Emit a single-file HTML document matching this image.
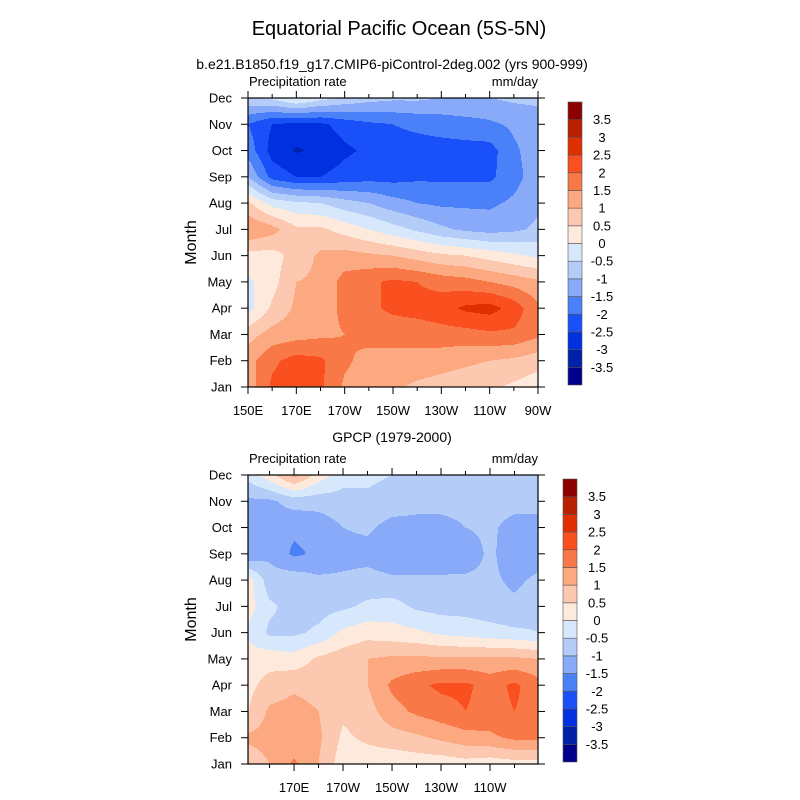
<!DOCTYPE html>
<html><head><meta charset="utf-8">
<style>
body{margin:0;background:#fff;}
svg{display:block;font-family:"Liberation Sans",Arial,sans-serif;}
</style></head>
<body>
<svg id="chart" width="800" height="800" viewBox="0 0 800 800" xmlns="http://www.w3.org/2000/svg">
<rect width="800" height="800" fill="#fff"/>
<text x="399" y="35" font-size="20" text-anchor="middle">Equatorial Pacific Ocean (5S-5N)</text>
<text x="392" y="69" font-size="14" text-anchor="middle">b.e21.B1850.f19_g17.CMIP6-piControl-2deg.002 (yrs 900-999)</text>
<text x="392" y="442" font-size="14" text-anchor="middle">GPCP (1979-2000)</text>
<g id="top"></g>
<g id="bot"></g>
</svg>
<script>
const months = ["Jan","Feb","Mar","Apr","May","Jun","Jul","Aug","Sep","Oct","Nov","Dec"];
const lons = [150,160,170,180,190,200,210,220,230,240,250,260,270];
const levels = [-3.5,-3,-2.5,-2,-1.5,-1,-0.5,0,0.5,1,1.5,2,2.5,3,3.5];
const levelLabels = ["-3.5","-3","-2.5","-2","-1.5","-1","-0.5","0","0.5","1","1.5","2","2.5","3","3.5"];
const colors = ["#00008c","#0020a8","#0030e0","#1a50f8","#4a80f8","#88aaf8","#b4ccf8","#d8e8fc","#feeadc","#fdc8b0","#fca880","#f87848","#fa5020","#e03000","#b82000","#8c0000"];
const xTickLonsTop = [150,170,190,210,230,250,270];
const xTickLabelsTop = ["150E","170E","170W","150W","130W","110W","90W"];
const xTickLonsBot = [170,190,210,230,250];
const xTickLabelsBot = ["170E","170W","150W","130W","110W"];
const modelData = [
[1.2,2.1,2.3,2.1,1.4,1.2,1.1,0.9,0.8,0.7,0.6,0.4,0.2],
[1.3,1.9,2.2,2.1,1.6,1.3,1.3,1.3,1.2,1.1,1.0,0.9,0.7],
[0.8,1.2,1.3,1.4,1.5,1.7,1.7,1.7,1.8,1.8,1.9,1.9,1.6],
[-0.2,0.6,1.1,1.3,1.6,1.9,2.1,2.2,2.3,2.6,2.7,2.3,1.6],
[-0.1,0.3,1.0,1.1,1.7,1.9,2.1,2.0,1.8,1.7,1.5,1.3,1.1],
[0.3,0.3,0.7,1.1,1.2,1.1,1.0,0.8,0.6,0.5,0.3,0.1,-0.1],
[1.5,1.2,0.6,0.6,0.3,0.0,-0.3,-0.6,-0.9,-1.1,-1.2,-1.1,-0.9],
[0.6,-0.2,-0.4,-0.5,-0.8,-1.0,-1.3,-1.5,-1.6,-1.6,-1.6,-1.4,-1.1],
[-1.0,-2.2,-2.5,-2.5,-2.3,-2.2,-2.2,-2.1,-2.1,-2.1,-2.1,-1.7,-1.2],
[-1.7,-2.7,-3.05,-2.9,-2.6,-2.4,-2.2,-2.2,-2.2,-2.2,-2.2,-1.6,-1.2],
[-2.0,-2.5,-2.65,-2.6,-2.3,-2.1,-2.0,-1.9,-1.8,-1.7,-1.6,-1.4,-1.2],
[-0.6,-0.4,0.1,-0.3,-0.6,-0.8,-0.9,-0.9,-1.0,-1.0,-1.0,-0.9,-0.9]];
const gpcpData = [
[0.6,1.0,1.6,1.0,0.2,0.2,0.1,0.2,0.2,0.3,0.2,0.3,0.3],
[1.1,1.2,1.1,1.1,0.4,0.6,0.8,0.9,1.1,1.3,1.4,1.6,1.6],
[0.4,1.1,1.2,1.0,0.6,0.8,1.3,1.6,1.8,2.0,1.8,2.0,1.8],
[0.3,0.7,0.9,0.8,0.7,1.0,1.6,1.9,2.1,2.1,1.8,2.1,1.7],
[0.2,0.3,0.2,0.6,0.8,1.0,1.1,1.1,1.1,1.1,1.1,1.1,1.0],
[0.0,-0.6,-0.6,-0.4,0.1,0.3,0.2,0.1,-0.1,-0.2,-0.3,-0.4,-0.5],
[0.3,-0.4,-0.7,-0.7,-0.6,-0.4,-0.3,-0.6,-0.7,-0.7,-0.8,-0.9,-0.7],
[0.4,-0.8,-0.7,-0.9,-0.9,-0.8,-0.9,-0.9,-0.9,-0.9,-0.9,-1.1,-0.9],
[-1.5,-1.1,-1.6,-1.4,-1.2,-1.2,-1.4,-1.4,-1.4,-1.3,-0.9,-1.3,-1.2],
[-1.0,-1.2,-1.4,-1.3,-1.0,-0.9,-1.2,-1.2,-1.3,-1.0,-0.9,-1.2,-1.2],
[-1.1,-1.1,-0.8,-0.8,-0.7,-0.6,-0.7,-0.8,-0.7,-0.7,-0.8,-0.8,-0.8],
[-0.4,0.3,1.2,0.3,-0.3,-0.4,-0.5,-0.6,-0.6,-0.6,-0.6,-0.6,-0.6]];

const NS="http://www.w3.org/2000/svg";
function mk(tag,attrs,parent){const e=document.createElementNS(NS,tag);for(const k in attrs)e.setAttribute(k,attrs[k]);parent.appendChild(e);return e;}
function colorIdx(v){let i=0;while(i<levels.length&&v>=levels[i])i++;return i;}
function sample(data,lon,m){
  let fi=(lon-lons[0])/(lons[1]-lons[0]);fi=Math.max(0,Math.min(lons.length-1,fi));
  let fj=Math.max(0,Math.min(11,m));
  const i0=Math.min(Math.floor(fi),lons.length-2),j0=Math.min(Math.floor(fj),10);
  const a=fi-i0,b=fj-j0;
  return (1-a)*(1-b)*data[j0][i0]+a*(1-b)*data[j0][i0+1]+(1-a)*b*data[j0+1][i0]+a*b*data[j0+1][i0+1];
}
function panel(g,data,x0,y0,w,h,lonMin,lonMax,tickLons,tickLabels,cbx,cby){
  const xS=l=>x0+(l-lonMin)/(lonMax-lonMin)*w;
  const yS=m=>y0+h-m/11*h;
  const field=mk('g',{},g);
  
  
  for(let py=0;py<h;py++){
    const m=(h-py-0.5)/h*11;
    let start=0,cur=-1;
    for(let px=0;px<=w;px++){
      let c=-1;
      if(px<w){const lon=lonMin+(px+0.5)/w*(lonMax-lonMin);c=colorIdx(sample(data,lon,m));}
      if(c!==cur){
        if(cur>=0){const r=mk('rect',{x:x0+start,y:y0+py,width:px-start,height:1.05,fill:colors[cur]},field);
          
          }
        start=px;cur=c;
      }
    }
  }
  mk('rect',{x:x0,y:y0,width:w,height:h,fill:'none',stroke:'#000','stroke-width':1.2},g);
  months.forEach((mn,j)=>{
    const y=yS(j);
    mk('line',{x1:x0-7,x2:x0,y1:y,y2:y,stroke:'#000'},g);
    mk('line',{x1:x0+w,x2:x0+w+7,y1:y,y2:y,stroke:'#000'},g);
    const t=mk('text',{x:x0-16,y:y+4.5,'font-size':13,'text-anchor':'end'},g);t.textContent=mn;
    
    
  });
  for(let l=Math.ceil(lonMin/10)*10;l<=lonMax+0.01;l+=10){
    const x=xS(l);const major=tickLons.includes(l);const len=major?7:4;
    mk('line',{x1:x,x2:x,y1:y0-len,y2:y0,stroke:'#000'},g);
    mk('line',{x1:x,x2:x,y1:y0+h,y2:y0+h+len,stroke:'#000'},g);
  }
  tickLons.forEach((l,i)=>{
    const t=mk('text',{x:xS(l),y:y0+h+28,'font-size':13,'text-anchor':'middle'},g);t.textContent=tickLabels[i];
    
    
  });
  let t=mk('text',{x:x0+1,y:y0-12,'font-size':13},g);t.textContent='Precipitation rate';
  
  
  t=mk('text',{x:x0+w,y:y0-12,'font-size':13,'text-anchor':'end'},g);t.textContent='mm/day';
  
  
  t=mk('text',{x:0,y:0,'font-size':16,'text-anchor':'middle',transform:`translate(${x0-52},${y0+h/2}) rotate(-90)`},g);t.textContent='Month';
  
  
  const cbh=283,bh=cbh/colors.length;
  const cb=mk('g',{},g);
  
  
  colors.forEach((c,i)=>{
    const r=mk('rect',{x:cbx,y:cby+cbh-(i+1)*bh,width:14,height:bh,fill:c,stroke:'#555','stroke-width':0.6},cb);
    
    
  });
  levelLabels.forEach((lb,i)=>{
    const tt=mk('text',{x:cbx+34,y:cby+cbh-(i+1)*bh+4.5,'font-size':13,'text-anchor':'middle'},cb);tt.textContent=lb;
    
    
  });
}
panel(document.getElementById('top'),modelData,248,98,290,289,150,270,xTickLonsTop,xTickLabelsTop,568,102);
panel(document.getElementById('bot'),gpcpData,248,475,290,289,151.2,269.6,xTickLonsBot,xTickLabelsBot,563,479);
</script>
</body></html>
